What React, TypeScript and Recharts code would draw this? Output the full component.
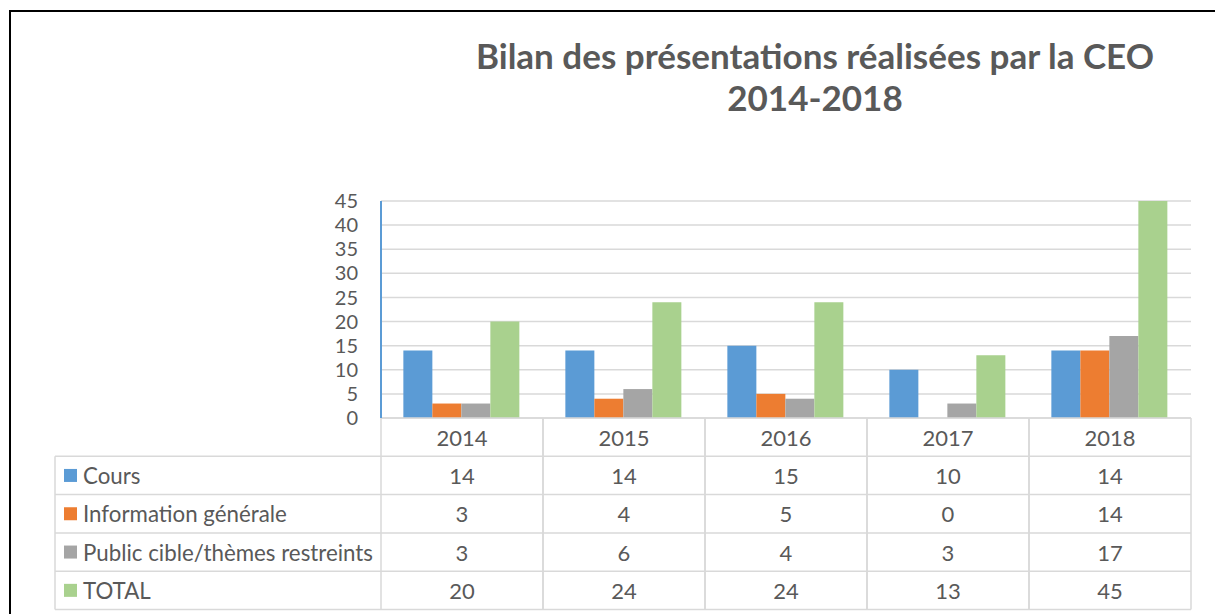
import React from 'react';
import { BarChart, Bar, XAxis, YAxis, CartesianGrid } from 'recharts';

const categories = ['2014', '2015', '2016', '2017', '2018'];
const cours = [14, 14, 15, 10, 14];
const infoGenerale = [3, 4, 5, 0, 14];
const publicCible = [3, 6, 4, 3, 17];
const total = [20, 24, 24, 13, 45];
const yTicks = [0, 5, 10, 15, 20, 25, 30, 35, 40, 45];
const seriesKeys = ['cours', 'info', 'public', 'total'];
const seriesNames = ['Cours', 'Information générale', 'Public cible/thèmes restreints', 'TOTAL'];
const seriesColors = ['#5B9BD5', '#ED7D31', '#A5A5A5', '#A9D18E'];
const seriesValues = [cours, infoGenerale, publicCible, total];
const titleLine1 = 'Bilan des présentations réalisées par la CEO';
const titleLine2 = '2014-2018';

const data = categories.map((c, i) => ({
  year: c,
  cours: cours[i],
  info: infoGenerale[i],
  public: publicCible[i],
  total: total[i],
}));

const W = 1215;
const H = 614;
const MARGIN = { top: 201, right: 24, bottom: 0, left: 0 };
const YAXIS_W = 381;
const XAXIS_H = 196;
const TABLE_LEFT = 55;
const ROW_H = 38.3;
const TEXT = '#595959';
const LINE = '#D9D9D9';
const FONT = 'Lato, "Open Sans", sans-serif';
const BAND = (W - YAXIS_W - MARGIN.right) / categories.length;

const TableTick = (props: any) => {
  const { x, y, payload, index } = props;
  const half = BAND / 2;
  const i = index ?? categories.indexOf(payload.value);
  const rows = seriesNames.length + 1;
  const elems: any[] = [];
  elems.push(<line key="vl" x1={x - half} x2={x - half} y1={y} y2={y + rows * ROW_H} stroke={LINE} strokeWidth={1.5} />);
  elems.push(<line key="vr" x1={x + half} x2={x + half} y1={y} y2={y + rows * ROW_H} stroke={LINE} strokeWidth={1.5} />);
  for (let r = 1; r <= rows; r++) {
    elems.push(<line key={'h' + r} x1={x - half} x2={x + half} y1={y + r * ROW_H} y2={y + r * ROW_H} stroke={LINE} strokeWidth={1.5} />);
  }
  elems.push(
    <text key="yr" x={x} y={y + ROW_H / 2} textAnchor="middle" dominantBaseline="central" fill={TEXT} fontSize={22} fontFamily={FONT}>
      {payload.value}
    </text>
  );
  seriesValues.forEach((vals, s) => {
    elems.push(
      <text key={'v' + s} x={x} y={y + (s + 1.5) * ROW_H} textAnchor="middle" dominantBaseline="central" fill={TEXT} fontSize={22} fontFamily={FONT}>
        {vals[i]}
      </text>
    );
  });
  if (i === 0) {
    const left = TABLE_LEFT;
    const right = x - half;
    elems.push(<line key="hl" x1={left} x2={left} y1={y + ROW_H} y2={y + rows * ROW_H} stroke={LINE} strokeWidth={1.5} />);
    for (let r = 1; r <= rows; r++) {
      elems.push(<line key={'hh' + r} x1={left} x2={right} y1={y + r * ROW_H} y2={y + r * ROW_H} stroke={LINE} strokeWidth={1.5} />);
    }
    seriesNames.forEach((name, s) => {
      const cy = y + (s + 1.5) * ROW_H;
      elems.push(<rect key={'sq' + s} x={left + 9} y={cy - 6.5} width={13} height={13} fill={seriesColors[s]} />);
      elems.push(
        <text key={'n' + s} x={left + 28} y={cy} textAnchor="start" dominantBaseline="central" fill={TEXT} fontSize={22.3} fontFamily={FONT}>
          {name}
        </text>
      );
    });
  }
  return <g>{elems}</g>;
};

export default function App() {
  return (
    <div style={{ position: 'absolute', left: 0, top: 0, width: W, height: H, background: '#fff', overflow: 'hidden' }}>
      <div
        style={{
          position: 'absolute',
          left: 9,
          top: 10,
          width: W,
          height: H,
          borderTop: '2px solid #000',
          borderLeft: '2px solid #000',
        }}
      />
      <div
        style={{
          position: 'absolute',
          left: 415,
          width: 800,
          top: 34,
          textAlign: 'center',
          fontFamily: FONT,
          fontWeight: 700,
          fontSize: 35,
          lineHeight: '42px',
          color: TEXT,
        }}
      >
        <div>{titleLine1}</div>
        <div>{titleLine2}</div>
      </div>
      <div style={{ position: 'absolute', left: 0, top: 0 }}>
        <BarChart width={W} height={H} data={data} margin={MARGIN} barCategoryGap="13.8%" barGap={0}>
          <CartesianGrid vertical={false} stroke={LINE} strokeWidth={1.5} />
          <XAxis
            dataKey="year"
            height={XAXIS_H}
            interval={0}
            tickSize={0}
            tickMargin={0}
            tickLine={false}
            axisLine={{ stroke: LINE, strokeWidth: 1.5 }}
            tick={<TableTick />}
          />
          <YAxis
            width={YAXIS_W}
            domain={[0, 45]}
            ticks={yTicks}
            interval={0}
            tickSize={0}
            tickMargin={23}
            tickLine={false}
            axisLine={{ stroke: '#5B9BD5', strokeWidth: 2 }}
            tick={{ fill: TEXT, fontSize: 20, fontFamily: FONT }}
          />
          {seriesKeys.map((k, s) => (
            <Bar key={k} dataKey={k} name={seriesNames[s]} fill={seriesColors[s]} isAnimationActive={false} />
          ))}
        </BarChart>
      </div>
    </div>
  );
}
